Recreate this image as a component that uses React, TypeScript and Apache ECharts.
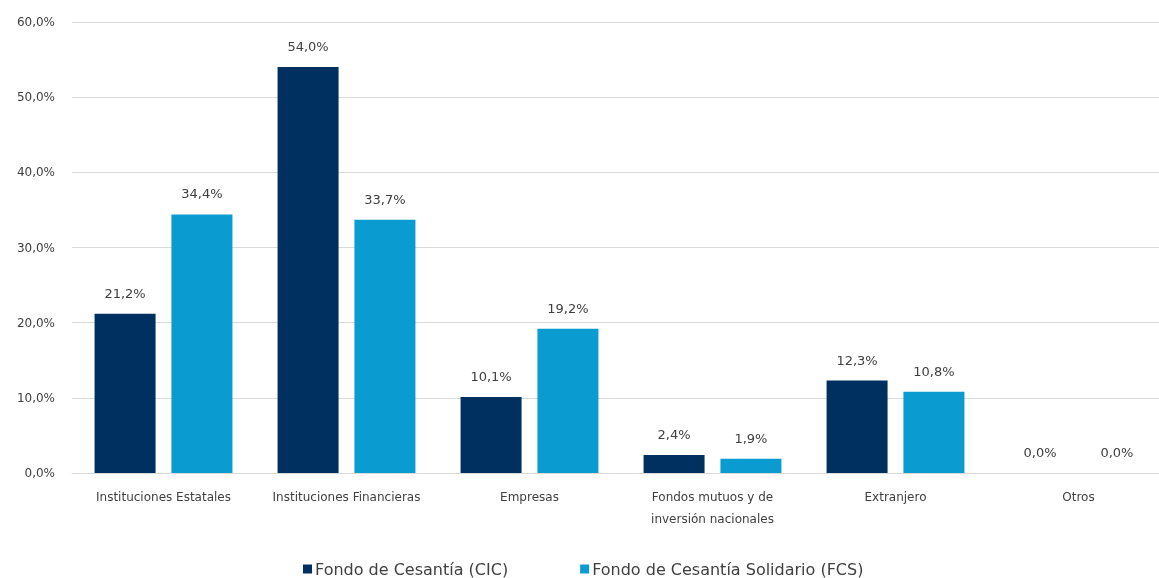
import React, { useEffect, useRef } from "react";
import * as echarts from "echarts";

const categories = [
  "Instituciones Estatales",
  "Instituciones Financieras",
  "Empresas",
  "Fondos mutuos y de\ninversión nacionales",
  "Extranjero",
  "Otros",
];
const seriesNames = ["Fondo de Cesantía (CIC)", "Fondo de Cesantía Solidario (FCS)"];
const cicValues = [21.2, 54.0, 10.1, 2.4, 12.3, 0.0];
const fcsValues = [34.4, 33.7, 19.2, 1.9, 10.8, 0.0];
const colors = ["#00305f", "#0a9bd0"];

const fmt = (v: number) => v.toFixed(1).replace(".", ",") + "%";

export default function App() {
  const ref = useRef<HTMLDivElement>(null);
  useEffect(() => {
    const chart = echarts.init(ref.current!, null, { renderer: "svg" });
    const font = "'DejaVu Sans', sans-serif";
    chart.setOption({
      animation: false,
      textStyle: { fontFamily: font },
      grid: { left: 72, right: -11, top: 22, bottom: 105, outerBoundsMode: "none", containLabel: false },
      legend: {
        top: 556,
        left: 298,
        itemWidth: 9,
        itemHeight: 9,
        itemGap: 72,
        icon: "rect",
        textStyle: { fontSize: 16, color: "#404040", fontFamily: font, padding: [0, 0, 0, -2] },
        data: seriesNames,
      },
      xAxis: {
        type: "category",
        data: categories,
        axisLine: { lineStyle: { color: "#d9d9d9" } },
        axisTick: { show: false },
        axisLabel: { fontSize: 12, color: "#404040", margin: 13, interval: 0, lineHeight: 22 },
      },
      yAxis: {
        type: "value",
        min: 0,
        max: 60,
        interval: 10,
        axisLabel: { formatter: (v: number) => fmt(v), fontSize: 12, color: "#404040", margin: 17 },
        splitLine: { lineStyle: { color: "#d9d9d9" } },
        axisLine: { show: false },
        axisTick: { show: false },
      },
      series: [cicValues, fcsValues].map((vals, i) => ({
        name: seriesNames[i],
        type: "bar",
        data: vals,
        barWidth: 61,
        barGap: "26%",
        itemStyle: { color: colors[i] },
        label: {
          show: true,
          position: "top",
          distance: 14,
          formatter: (p: any) => fmt(p.value),
          fontSize: 13,
          color: "#404040",
        },
      })),
    });
    return () => chart.dispose();
  }, []);
  return <div ref={ref} style={{ position: "fixed", left: 0, top: 0, width: 1159, height: 578 }} />;
}
